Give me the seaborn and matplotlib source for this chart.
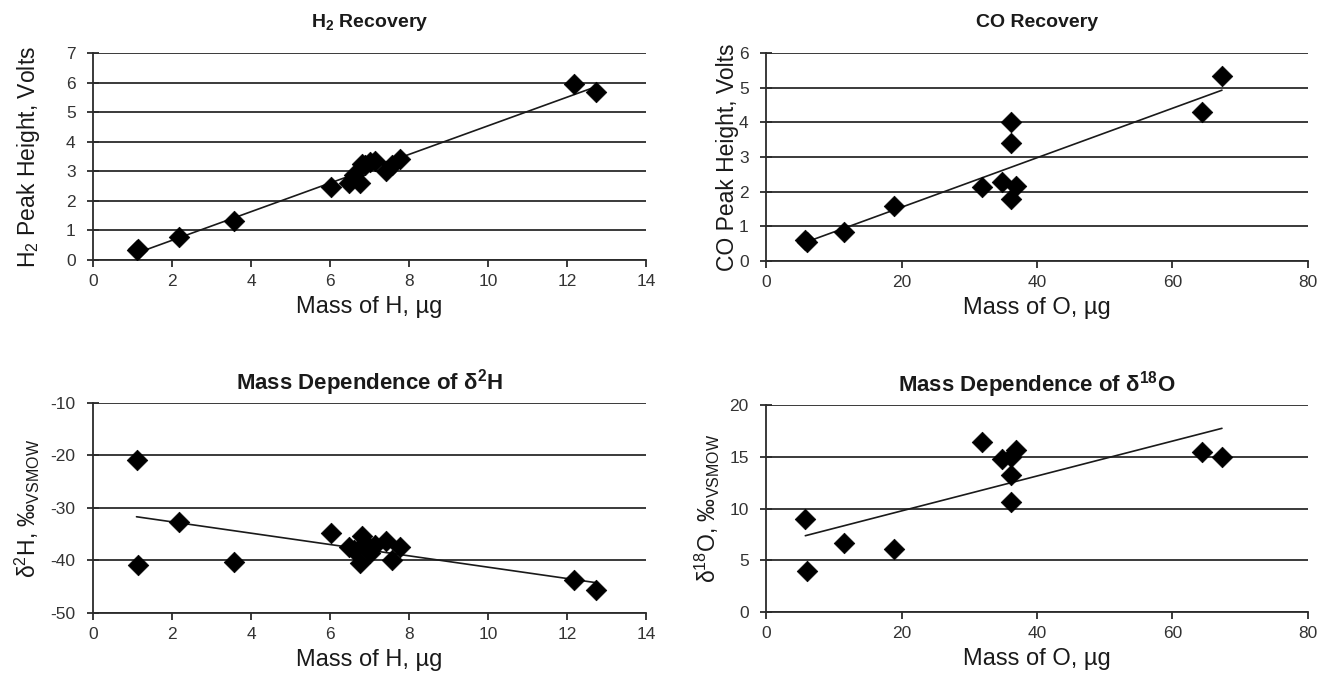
import numpy as np
import pandas as pd
import matplotlib
matplotlib.use("Agg")
import matplotlib.pyplot as plt
import seaborn as sns

# ---- data ----
mass_H = [1.10, 1.15, 2.17, 3.57, 6.03, 6.48, 6.60, 6.77, 6.82, 6.88, 7.00, 7.15, 7.42, 7.57, 7.77, 12.17, 12.72]
h2_peak = [0.33, 0.36, 0.79, 1.33, 2.46, 2.62, 2.88, 2.60, 3.26, 3.22, 3.30, 3.36, 3.02, 3.22, 3.41, 5.96, 5.69]
d2H = [-20.9, -40.9, -32.6, -40.3, -34.7, -37.5, -38.0, -40.5, -35.3, -36.7, -38.6, -37.0, -36.3, -40.0, -37.5, -43.8, -45.6]

mass_O = [5.8, 6.0, 11.5, 18.9, 31.9, 34.8, 36.1, 36.9, 36.2, 36.2, 64.4, 67.3]
co_peak = [0.60, 0.56, 0.85, 1.60, 2.12, 2.29, 4.00, 2.17, 3.40, 1.79, 4.29, 5.35]
d18O = [8.94, 3.97, 6.68, 6.13, 16.4, 14.75, 15.0, 15.7, 13.2, 10.6, 15.5, 15.0]

titles = [r"H$_\mathbf{2}$ Recovery", "CO Recovery",
          r"Mass Dependence of δ$^\mathbf{2}$H", r"Mass Dependence of δ$^\mathbf{18}$O"]
ylabels = [r"H$_2$ Peak Height, Volts", "CO Peak Height, Volts",
           r"δ$^2$H, ‰$_{\rm VSMOW}$", r"δ$^{18}$O, ‰$_{\rm VSMOW}$"]
xlabels = ["Mass of H, µg", "Mass of O, µg", "Mass of H, µg", "Mass of O, µg"]
xlims = [(0, 14), (0, 80), (0, 14), (0, 80)]
xticks = [np.arange(0, 15, 2), np.arange(0, 81, 20), np.arange(0, 15, 2), np.arange(0, 81, 20)]
ylims = [(0, 7), (0, 6), (-50, -10), (0, 20)]
yticks = [np.arange(0, 8, 1), np.arange(0, 7, 1), np.arange(-50, -9, 10), np.arange(0, 21, 5)]

sns.set_theme(style="white")
plt.rcParams["font.family"] = ["Liberation Sans", "DejaVu Sans"]
plt.rcParams["mathtext.fontset"] = "custom"
plt.rcParams["mathtext.rm"] = "Liberation Sans"
plt.rcParams["mathtext.it"] = "Liberation Sans:italic"
plt.rcParams["mathtext.bf"] = "Liberation Sans:bold"
plt.rcParams["mathtext.default"] = "regular"
plt.rcParams["axes.unicode_minus"] = False

fig = plt.figure(figsize=(13.18, 6.74), dpi=100)
fig.patch.set_facecolor("white")
positions = [
    [0.0706, 0.6142, 0.4196, 0.3072],
    [0.5812, 0.6128, 0.4112, 0.3086],
    [0.0706, 0.0905, 0.4196, 0.3116],
    [0.5812, 0.0920, 0.4112, 0.3070],
]
ylabel_x = [-0.092, -0.050, -0.092, -0.081]
title_size = [14, 14, 16, 16]
title_pad = [19, 19, 10, 10]
frames = [
    pd.DataFrame({"x": mass_H, "y": h2_peak}),
    pd.DataFrame({"x": mass_O, "y": co_peak}),
    pd.DataFrame({"x": mass_H, "y": d2H}),
    pd.DataFrame({"x": mass_O, "y": d18O}),
]
line_col = "#2b2b2b"
for i, (pos, df) in enumerate(zip(positions, frames)):
    ax = fig.add_axes(pos)
    ax.set_axisbelow(True)
    ax.yaxis.grid(True, color=line_col, lw=1.3)
    ax.xaxis.grid(False)
    sns.regplot(data=df, x="x", y="y", ax=ax, scatter=False, ci=None,
                line_kws=dict(color="#1a1a1a", lw=1.2))
    sns.scatterplot(data=df, x="x", y="y", ax=ax, marker="D", s=110,
                    color="black", edgecolor="black", linewidth=0.5, zorder=3)
    ax.set_xlim(*xlims[i])
    ax.set_ylim(*ylims[i])
    ax.set_xticks(xticks[i])
    ax.set_yticks(yticks[i])
    for s in ["top", "right"]:
        ax.spines[s].set_visible(False)
    for s in ["left", "bottom"]:
        ax.spines[s].set_color(line_col)
        ax.spines[s].set_linewidth(1.3)
    ax.tick_params(axis="y", direction="inout", length=9, width=1.3, color=line_col,
                   labelsize=12.5, pad=8, labelcolor="#333333", left=True)
    ax.tick_params(axis="x", direction="out", length=5, width=1.3, color=line_col,
                   labelsize=12.5, pad=5, labelcolor="#333333", bottom=True)
    ax.set_title(titles[i], fontsize=title_size[i], fontweight="bold",
                 pad=title_pad[i], color="#1a1a1a")
    ax.set_xlabel(xlabels[i], fontsize=17, labelpad=5, color="#1a1a1a")
    ax.set_ylabel(ylabels[i], fontsize=16.5, color="#1a1a1a")
    ax.yaxis.set_label_coords(ylabel_x[i], 0.5)

fig.savefig("out.png", dpi=100, facecolor="white")
